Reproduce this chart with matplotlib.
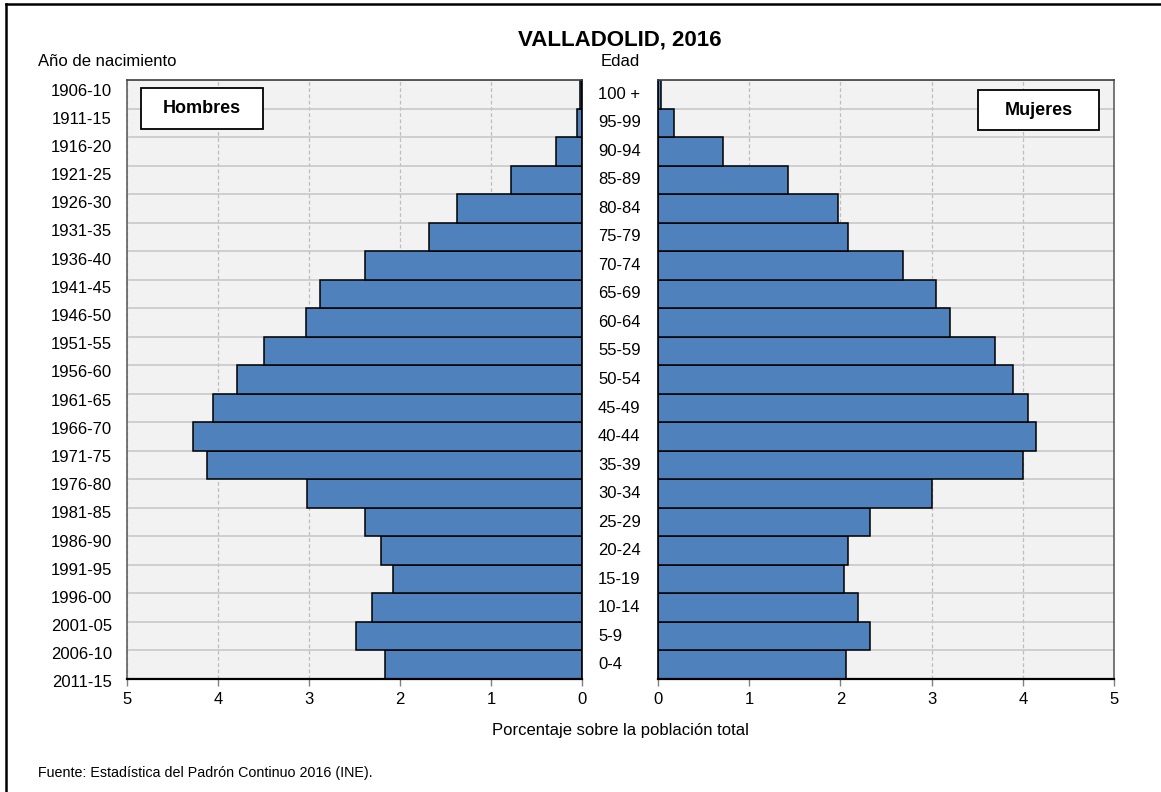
import matplotlib
matplotlib.use("Agg")
import matplotlib.pyplot as plt
import matplotlib.transforms as mtransforms
from matplotlib.patches import Rectangle
from matplotlib.lines import Line2D
import numpy as np

plt.rcParams["font.family"] = ["Liberation Sans", "DejaVu Sans"]

# Age groups, youngest first (bottom of the pyramid)
edades = ["0-4", "5-9", "10-14", "15-19", "20-24", "25-29", "30-34", "35-39",
          "40-44", "45-49", "50-54", "55-59", "60-64", "65-69", "70-74",
          "75-79", "80-84", "85-89", "90-94", "95-99", "100 +"]

# Percentage of total population, same order as edades
hombres = [2.17, 2.48, 2.31, 2.08, 2.21, 2.39, 3.02, 4.12, 4.28, 4.05, 3.79,
           3.49, 3.03, 2.88, 2.38, 1.68, 1.37, 0.78, 0.29, 0.05, 0.02]
mujeres = [2.06, 2.32, 2.19, 2.04, 2.08, 2.32, 3.00, 4.00, 4.14, 4.06, 3.89,
           3.70, 3.20, 3.05, 2.69, 2.08, 1.97, 1.43, 0.71, 0.17, 0.03]

# Birth-year labels, oldest first (top of the pyramid)
nacimiento = ["1906-10", "1911-15", "1916-20", "1921-25", "1926-30", "1931-35",
              "1936-40", "1941-45", "1946-50", "1951-55", "1956-60", "1961-65",
              "1966-70", "1971-75", "1976-80", "1981-85", "1986-90", "1991-95",
              "1996-00", "2001-05", "2006-10", "2011-15"]

ticks = [0, 1, 2, 3, 4, 5]

BAR = "#4F81BD"
BG = "#F2F2F2"
FS = 12

W, H = 1161, 792
fig = plt.figure(figsize=(W / 100, H / 100), dpi=100)

def fx(px):
    return px / W

def fy(py):
    return 1 - py / H

ax_top, ax_bot = 80, 679
ax_l = fig.add_axes([fx(127), fy(ax_bot), fx(582 - 127), (ax_bot - ax_top) / H])
ax_r = fig.add_axes([fx(658), fy(ax_bot), fx(1114 - 658), (ax_bot - ax_top) / H])

y = np.arange(len(edades))

for ax, vals in ((ax_l, hombres), (ax_r, mujeres)):
    ax.set_facecolor(BG)
    ax.barh(y, vals, height=1.0, color=BAR, edgecolor="black", linewidth=1.1, zorder=3)
    ax.set_ylim(-0.5, len(edades) - 0.5)
    ax.set_xticks(ticks)
    ax.set_xticklabels([str(t) for t in ticks], fontsize=FS)
    ax.set_yticks([])
    ax.set_yticks(np.arange(-0.5, len(edades), 1.0), minor=True)
    ax.tick_params(axis="y", which="both", length=0, labelleft=False)
    ax.tick_params(axis="x", length=5, width=1, color="#808080", pad=4)
    ax.grid(axis="y", which="minor", color="#C8C8C8", linewidth=1.2, zorder=0)
    ax.grid(axis="x", which="major", color="#BDBDBD", linewidth=0.9,
            linestyle=(0, (3, 2)), zorder=0)
    for s in ax.spines.values():
        s.set_zorder(4)
    ax.spines["bottom"].set_color("black")
    ax.spines["bottom"].set_linewidth(1.6)
    ax.spines["top"].set_color("#404040")
    ax.spines["top"].set_linewidth(1.2)

ax_l.set_xlim(5, 0)
ax_r.set_xlim(0, 5)
ax_l.spines["left"].set_color("#606060")
ax_l.spines["left"].set_linewidth(1.2)
ax_l.spines["right"].set_color("black")
ax_l.spines["right"].set_linewidth(1.2)
ax_r.spines["left"].set_color("black")
ax_r.spines["left"].set_linewidth(1.2)
ax_r.spines["right"].set_color("#606060")
ax_r.spines["right"].set_linewidth(1.2)

# Age labels in the gap between the two halves
tr_mid = mtransforms.blended_transform_factory(fig.transFigure, ax_l.transData)
for i, lab in enumerate(edades):
    fig.text(fx(598), y[i], lab, transform=tr_mid, ha="left", va="center", fontsize=FS)

# Birth-year labels on the left side
step = 28.19 / (ax_bot - ax_top)
first = 11 / (ax_bot - ax_top)
tr_left = mtransforms.blended_transform_factory(fig.transFigure, ax_l.transAxes)
for i, lab in enumerate(nacimiento):
    fig.text(fx(112), 1 - first - i * step, lab, transform=tr_left,
             ha="right", va="center", fontsize=FS)

# Sex label boxes
def sex_box(ax, x0, y0, w, h, text):
    ax.add_patch(Rectangle((x0, y0), w, h, transform=ax.transAxes, facecolor="white",
                           edgecolor="black", linewidth=1.3, zorder=6))
    ax.text(x0 + w / 2, y0 + h / 2, text, transform=ax.transAxes, ha="center",
            va="center", fontsize=13, fontweight="bold", zorder=7)

sex_box(ax_l, 0.031, 0.918, 0.268, 0.0686, "Hombres")
sex_box(ax_r, 0.702, 0.9165, 0.265, 0.0668, "Mujeres")

# Titles and annotations
fig.text(fx(620), fy(40), "VALLADOLID, 2016", ha="center", va="center",
         fontsize=16, fontweight="bold")
fig.text(fx(38), fy(62), "Año de nacimiento", ha="left", va="center", fontsize=FS)
fig.text(fx(620), fy(62), "Edad", ha="center", va="center", fontsize=FS)
fig.text(fx(620), fy(730), "Porcentaje sobre la población total", ha="center",
         va="center", fontsize=FS)
fig.text(fx(38), fy(773), "Fuente: Estadística del Padrón Continuo 2016 (INE).",
         ha="left", va="center", fontsize=10.3)

# Outer frame (top and left edges)
fig.add_artist(Line2D([fx(6), 1.0], [fy(3.5), fy(3.5)], color="black", linewidth=1.8,
                      transform=fig.transFigure))
fig.add_artist(Line2D([fx(6), fx(6)], [fy(3.5), 0.0], color="black", linewidth=1.8,
                      transform=fig.transFigure))

fig.savefig("out.png", dpi=100, facecolor="white")
